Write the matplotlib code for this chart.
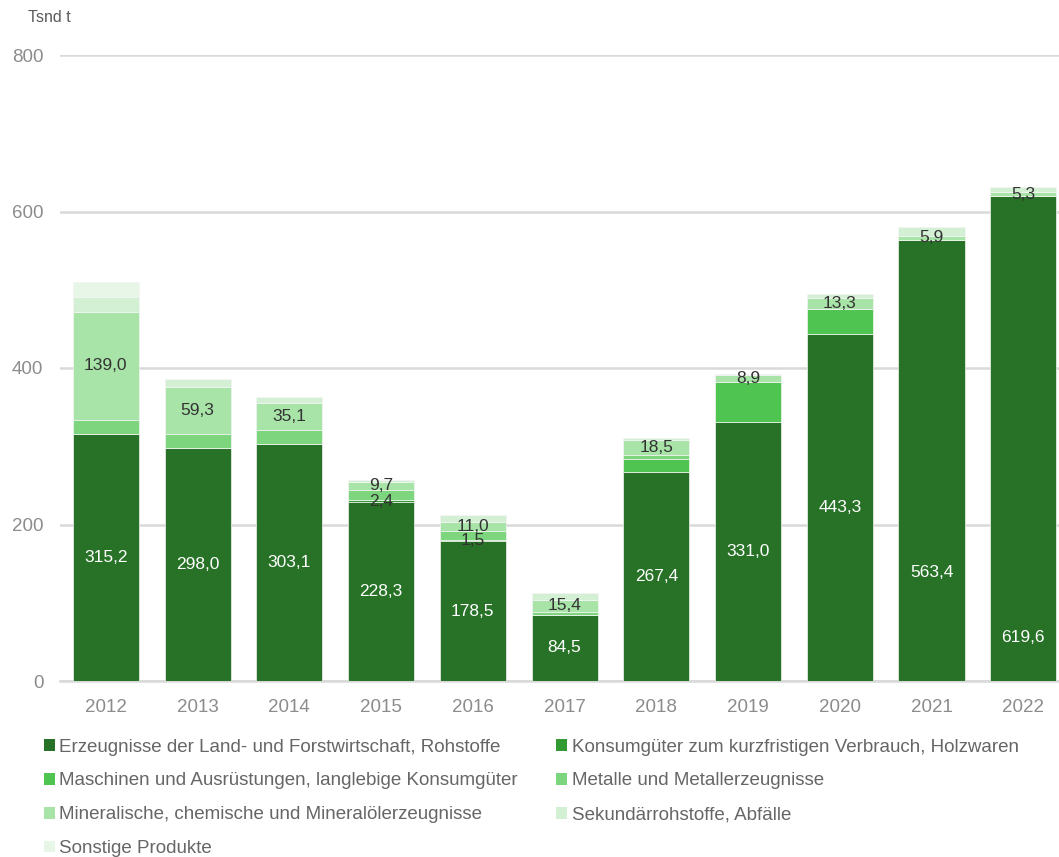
from matplotlib import pyplot as plt
import numpy

plt.rcParams['font.family'] = ['Liberation Sans', 'DejaVu Sans']

years = ['2012', '2013', '2014', '2015', '2016', '2017', '2018', '2019', '2020', '2021', '2022']
erzeugnisse = [315.2, 298.0, 303.1, 228.3, 178.5, 84.5, 267.4, 331.0, 443.3, 563.4, 619.6]
konsum = [0, 0, 0, 2.4, 1.5, 0, 0, 0, 0, 0, 0]
maschinen = [0, 0, 0, 0, 0, 0, 16.0, 51.5, 32.4, 0, 0]
metalle = [18.0, 18.0, 17.5, 14.0, 12.0, 4.0, 6.0, 0, 0, 0, 0]
mineral = [139.0, 59.3, 35.1, 9.7, 11.0, 15.4, 18.5, 8.9, 13.3, 5.9, 5.3]
sekundaer = [18.0, 11.0, 7.5, 3.0, 9.0, 9.0, 3.0, 1.5, 5.5, 10.6, 6.0]
sonstige = [20.0, 0, 0, 0, 0, 0, 0, 0, 0, 0, 0]

names = ['Erzeugnisse der Land- und Forstwirtschaft, Rohstoffe',
         'Konsumgüter zum kurzfristigen Verbrauch, Holzwaren',
         'Maschinen und Ausrüstungen, langlebige Konsumgüter',
         'Metalle und Metallerzeugnisse',
         'Mineralische, chemische und Mineralölerzeugnisse',
         'Sekundärrohstoffe, Abfälle',
         'Sonstige Produkte']
colors = ['#277227', '#339933', '#50c450', '#7dd67d', '#a8e4a8', '#d4f0d4', '#e8f6e8']
series = [erzeugnisse, konsum, maschinen, metalle, mineral, sekundaer, sonstige]

fig = plt.figure(figsize=(10.59, 8.57), dpi=100)
ax = fig.add_axes([60 / 1059, 1 - 681 / 857, 999 / 1059, 626 / 857])

x = numpy.arange(len(years))
bottom = numpy.zeros(len(years))
bars = []
for vals, col, name in zip(series, colors, names):
    b = ax.bar(x, vals, 0.72, bottom=bottom, color=col, edgecolor='#f4f4f4',
               linewidth=0.5, label=name, zorder=3)
    bars.append((numpy.array(vals, dtype=float), bottom.copy(), b))
    bottom += numpy.array(vals)

# labels for the first series (white), placed like the original
special = {9: 0.245, 10: 0.09}
for i, v in enumerate(erzeugnisse):
    frac = special.get(i, 0.5)
    ax.text(i, v * frac, ('%.1f' % v).replace('.', ','), color='white',
            ha='center', va='center', fontsize=12.5, zorder=5)

# labels for Konsumgüter and Mineralische (dark)
for k in (1, 4):
    vals, bot, _ = bars[k]
    for i, v in enumerate(vals):
        if v > 0:
            ax.text(i, bot[i] + v / 2, ('%.1f' % v).replace('.', ','),
                    color='#333333', ha='center', va='center', fontsize=12.5, zorder=5)

ax.set_ylim(0, 800)
ax.set_xlim(-0.5, 10.39)
ax.set_yticks([0, 200, 400, 600, 800])
ax.set_xticks(x)
ax.set_xticklabels(years)
ax.tick_params(axis='both', length=0, labelsize=13.5, labelcolor='#8c8c8c')
ax.tick_params(axis='y', pad=12)
ax.tick_params(axis='x', pad=13)
ax.grid(axis='y', color='#d9d9d9', linewidth=1.8, zorder=0)
for s in ['top', 'right', 'left']:
    ax.spines[s].set_visible(False)
ax.spines['bottom'].set_color('#d9d9d9')
ax.spines['bottom'].set_linewidth(1.8)

fig.text(28 / 1059, 1 - 18 / 857, 'Tsnd t', fontsize=11.5, color='#595959',
         ha='left', va='center')

# row-major legend order
order = [0, 2, 4, 6, 1, 3, 5]
handles = [bars[k][2] for k in order]
labels = [names[k] for k in order]
leg = fig.legend(handles, labels, loc='upper left',
                 bbox_to_anchor=(36 / 1059, 1 - 731 / 857),
                 ncol=2, frameon=False, fontsize=13.5, handlelength=0.6,
                 handleheight=0.6, handletextpad=0.25, columnspacing=2.0,
                 labelspacing=0.9, borderaxespad=0)
for t in leg.get_texts():
    t.set_color('#666666')
for h in leg.legend_handles:
    h.set_edgecolor('none')

plt.savefig('out.png', dpi=100)
